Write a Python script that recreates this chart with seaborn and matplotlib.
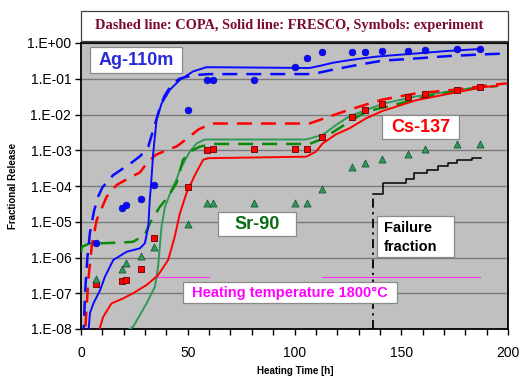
import numpy as np
import pandas as pd
import matplotlib
matplotlib.use("Agg")
import matplotlib.pyplot as plt
import seaborn as sns
from matplotlib.patches import Rectangle
from matplotlib.ticker import FixedLocator, FuncFormatter, NullLocator

# ---------------- data ----------------
# Experimental points (symbols)
exp_t = [7, 19, 21, 28, 34, 50, 59, 62, 81, 100, 106, 113, 127, 133, 141, 153, 161, 176, 187]
ag_exp = [2.5e-6, 2.5e-5, 2.9e-5, 4.3e-5, 1.1e-4, 1.35e-2, 9.1e-2, 9.3e-2, 9.5e-2, 0.22, 0.37,
          0.55, 0.55, 0.55, 0.58, 0.60, 0.63, 0.66, 0.69]
cs_exp = [1.8e-7, 2.2e-7, 2.4e-7, 4.8e-7, 3.5e-6, 9.5e-5, 1.0e-3, 1.1e-3, 1.1e-3, 1.1e-3, 1.1e-3,
          2.4e-3, 8.3e-3, 1.3e-2, 2.0e-2, 3.1e-2, 3.8e-2, 4.9e-2, 5.8e-2]
sr_exp = [2.5e-7, 4.7e-7, 6.9e-7, 1.1e-6, 2.0e-6, 8.5e-6, 3.4e-5, 3.4e-5, 3.4e-5, 3.4e-5, 3.4e-5,
          8.1e-5, 3.5e-4, 4.5e-4, 5.8e-4, 8.1e-4, 1.1e-3, 1.5e-3, 1.5e-3]

# FRESCO (solid) and COPA (dashed) calculations
ag_fresco_t = [3.2, 4.2, 5.8, 8.9, 11.2, 15.1, 21.4, 27.6, 29.9, 31.5, 32.2, 32.7, 33.8, 35.4, 37.7,
               41.6, 46.3, 52.5, 58.7, 62, 107, 112, 118, 124, 130, 139, 157, 172, 187]
ag_fresco = [5e-9, 2.8e-8, 5.2e-8, 1.2e-7, 2.9e-7, 8.5e-7, 1.45e-6, 1.8e-6, 2.5e-6, 7.2e-6, 4.1e-5,
             8.9e-5, 8.1e-4, 7.1e-3, 2.0e-2, 4.9e-2, 9.3e-2, 0.16, 0.21, 0.21, 0.20, 0.23, 0.28,
             0.32, 0.36, 0.42, 0.51, 0.60, 0.68]
ag_copa_t = [1.0, 1.5, 2.0, 3.0, 4.2, 6.1, 8.0, 10, 15, 23.7, 28, 31.5, 33, 35, 37, 39, 41.5, 46,
             52.5, 60, 107, 112, 118, 129, 141, 157, 172, 188, 199.5]
ag_copa = [5e-9, 2.5e-8, 1.26e-7, 1.0e-6, 5.0e-6, 2.0e-5, 5.0e-5, 9.1e-5, 2.0e-4, 4.5e-4, 7.1e-4,
           1.26e-3, 2.5e-3, 6.3e-3, 1.6e-2, 3.2e-2, 5.6e-2, 0.10, 0.126, 0.135, 0.135, 0.15, 0.18,
           0.24, 0.32, 0.37, 0.43, 0.48, 0.51]

cs_fresco_t = [8.1, 10.4, 14.3, 19.8, 24.4, 30.7, 36.1, 40.8, 43.9, 46.3, 49.4, 53.3, 57.2, 59.5,
               105.5, 110, 113.2, 119.5, 125.7, 133.5, 141.3, 156.9, 172.4, 188, 195]
cs_fresco = [7.6e-9, 2.2e-8, 5.2e-8, 7.2e-8, 1.0e-7, 1.7e-7, 3.2e-7, 8.5e-7, 3.8e-6, 1.7e-5, 6.3e-5,
             2.0e-4, 5.4e-4, 6.0e-4, 6.6e-4, 9.1e-4, 1.55e-3, 2.8e-3, 4.1e-3, 7.8e-3, 1.26e-2,
             2.5e-2, 3.8e-2, 5.8e-2, 6.3e-2]
cs_copa_t = [1.5, 1.9, 3.4, 5, 7.3, 12, 16.7, 22, 27.6, 31, 35, 40, 45, 50, 55, 60, 62, 107, 112,
             118, 125.5, 141, 157, 176, 194, 199.5]
cs_copa = [2.5e-9, 7.9e-9, 2.3e-7, 2.0e-6, 1.1e-5, 5.0e-5, 1.07e-4, 1.6e-4, 2.4e-4, 4.5e-4, 7.4e-4,
           1.0e-3, 1.3e-3, 2.2e-3, 3.8e-3, 5.2e-3, 5.6e-3, 5.6e-3, 7.1e-3, 9.5e-3, 1.35e-2, 2.6e-2,
           3.9e-2, 5.0e-2, 6.9e-2, 7.4e-2]

sr_fresco_t = [19.8, 24.4, 30.7, 34.6, 36.1, 37.7, 39.3, 42.4, 44.7, 46.3, 50.9, 54.1, 58, 105.5,
               113.2, 119.5, 125.7, 141.3, 156.9, 172.4, 187.2]
sr_fresco = [7.6e-9, 1.15e-8, 5.2e-8, 1.5e-7, 5.5e-7, 7.2e-6, 2.6e-5, 7.8e-5, 1.5e-4, 2.8e-4, 9.1e-4,
             1.55e-3, 2.0e-3, 2.0e-3, 2.7e-3, 5.1e-3, 8.9e-3, 2.0e-2, 3.2e-2, 4.4e-2, 6.0e-2]
sr_copa_t = [0, 0.5, 4.2, 8.9, 18.2, 24.4, 29.9, 32.2, 36.9, 40.8, 44.7, 47.8, 50.9, 55.6, 61.8, 107,
             113.2, 125.7, 133.5, 149, 164.6, 180.2, 195]
sr_copa = [1.45e-6, 2.0e-6, 2.5e-6, 2.5e-6, 2.6e-6, 2.75e-6, 4.3e-6, 9.1e-6, 2.6e-5, 5.0e-5, 1.2e-4,
           5.4e-4, 9.1e-4, 1.26e-3, 1.5e-3, 1.5e-3, 2.1e-3, 6.3e-3, 1.2e-2, 2.0e-2, 3.5e-2, 5.0e-2,
           6.3e-2]

# Failure fraction (step curve) and its onset marker
fail_t = [137, 141.5, 152, 156, 162, 167, 172, 176, 183, 187.5]
fail = [6.0e-5, 1.2e-4, 1.6e-4, 2.3e-4, 2.8e-4, 3.7e-4, 4.4e-4, 5.4e-4, 6.2e-4, 6.2e-4]
fail_onset_t = [137, 137]
fail_onset = [1e-8, 6.0e-5]

# Heating temperature indicator line (two visible segments)
heat_t = [35, 60, 113, 187]
heat_level = [2.8e-7, 2.8e-7, 2.8e-7, 2.8e-7]
heat_seg = [0, 0, 1, 1]

y_ticks = [1e-8, 1e-7, 1e-6, 1e-5, 1e-4, 1e-3, 1e-2, 1e-1, 1e0]

# ---------------- figure ----------------
W, H = 522, 377
fig = plt.figure(figsize=(W / 100, H / 100), dpi=100)
fig.patch.set_facecolor("white")
SANS = ["Liberation Sans", "DejaVu Sans"]
SERIF = ["Liberation Serif", "DejaVu Serif"]
plt.rcParams["font.family"] = SANS

AX_L, AX_T, AX_R, AX_B = 81, 43, 508, 329
ax = fig.add_axes([AX_L / W, 1 - AX_B / H, (AX_R - AX_L) / W, (AX_B - AX_T) / H])
ax.set_facecolor("#c0c0c0")
ax.set_yscale("log")
ax.set_ylim(1e-8, 1)
ax.set_xlim(0, 200)

BLUE, RED, GSOL, GDASH = "#0a0aff", "#ff0000", "#2e9a5a", "#0a8a0a"
DASH = (0, (6, 3.6))

def line(t, y, color, lw, ls, **kw):
    sns.lineplot(x=t, y=y, ax=ax, color=color, lw=lw, ls=ls, estimator=None, sort=False,
                 legend=False, **kw)

# magenta heating temperature line
hdf = pd.DataFrame({"t": heat_t, "v": heat_level, "seg": heat_seg})
sns.lineplot(data=hdf, x="t", y="v", units="seg", estimator=None, sort=False, ax=ax,
             color="#ff33ff", lw=0.8, legend=False, zorder=2)

line(sr_fresco_t, sr_fresco, GSOL, 1.4, "-", zorder=3)
line(sr_copa_t, sr_copa, GDASH, 1.8, DASH, zorder=3)
line(cs_fresco_t, cs_fresco, RED, 1.4, "-", zorder=3)
line(cs_copa_t, cs_copa, RED, 1.8, DASH, zorder=3)
line(ag_fresco_t, ag_fresco, BLUE, 1.4, "-", zorder=3)
line(ag_copa_t, ag_copa, BLUE, 1.8, DASH, zorder=3)

line(fail_t, fail, "black", 1.1, "-", drawstyle="steps-post", zorder=3)
line(fail_onset_t, fail_onset, "black", 1.3, (0, (5, 2.5, 1.2, 2.5)), zorder=3)

sns.scatterplot(x=exp_t, y=ag_exp, ax=ax, color=BLUE, marker="o", s=24, edgecolor="#0000aa",
                linewidth=0.4, zorder=5, legend=False)
sns.scatterplot(x=exp_t, y=cs_exp, ax=ax, color=RED, marker="s", s=22, edgecolor="#660000",
                linewidth=0.6, zorder=5, legend=False)
sns.scatterplot(x=exp_t, y=sr_exp, ax=ax, color="#2e9a5a", marker="^", s=26, edgecolor="#0f4f2a",
                linewidth=0.5, zorder=5, legend=False)

# axes styling
ax.set_xlabel("")
ax.set_ylabel("")
ax.xaxis.set_major_locator(FixedLocator(list(range(0, 201, 10))))
ax.xaxis.set_major_formatter(FuncFormatter(lambda v, p: f"{int(round(v))}" if round(v) % 50 == 0 else ""))
ax.yaxis.set_major_locator(FixedLocator(y_ticks))
ax.yaxis.set_minor_locator(NullLocator())
ax.yaxis.set_major_formatter(FuncFormatter(lambda v, p: f"1.E{int(round(np.log10(v))):+03d}"))
ax.tick_params(axis="x", direction="out", length=4.5, width=1, pad=8, labelsize=10, colors="black")
ax.tick_params(axis="y", direction="out", length=4, width=1, pad=3, labelsize=10, colors="black")
ax.yaxis.grid(True, color="#7a7a7a", lw=1.0)
ax.xaxis.grid(False)
ax.set_axisbelow(True)
for s in ax.spines.values():
    s.set_color("black")
    s.set_linewidth(1.3)

# ---------------- annotation boxes (pixel layout) ----------------
def fbox(l, t, r, b, ec="#8a8a8a", lw=0.9):
    fig.add_artist(Rectangle((l / W, 1 - b / H), (r - l) / W, (b - t) / H, transform=fig.transFigure,
                             facecolor="white", edgecolor=ec, lw=lw, zorder=10))

def ftext(x, y, s, **kw):
    fig.text(x / W, 1 - y / H, s, zorder=11, **kw)

fbox(81, 11, 508, 41, ec="#404040", lw=0.9)
ftext(289, 26, "Dashed line: COPA, Solid line: FRESCO, Symbols: experiment", ha="center",
      va="center", fontsize=10.4, fontweight="bold", color="#7a0a30", family=SERIF)

fbox(90, 47, 182, 73)
ftext(136, 60.5, "Ag-110m", ha="center", va="center", fontsize=13, fontweight="bold", color="#2a2ad8")

fbox(382, 115, 459, 139)
ftext(420.5, 127.5, "Cs-137", ha="center", va="center", fontsize=13, fontweight="bold", color="#ff0000")

fbox(218, 212, 296, 236)
ftext(257, 224.5, "Sr-90", ha="center", va="center", fontsize=13, fontweight="bold", color="#0b6b14")

fbox(377, 216, 454, 257)
ftext(384, 227.5, "Failure", ha="left", va="center", fontsize=10.5, fontweight="bold", color="black")
ftext(384, 247, "fraction", ha="left", va="center", fontsize=10.5, fontweight="bold", color="black")

fbox(183, 282, 397, 303)
ftext(290, 293, "Heating temperature 1800\u00b0C", ha="center", va="center", fontsize=10.5,
      fontweight="bold", color="#ff00ff")

# axis titles
ftext(295, 371, "Heating Time [h]", ha="center", va="center", fontsize=7, fontweight="bold")
ftext(13, 186, "Fractional Release", ha="center", va="center", fontsize=7, fontweight="bold",
      rotation=90)

fig.savefig("out.png", dpi=100)
